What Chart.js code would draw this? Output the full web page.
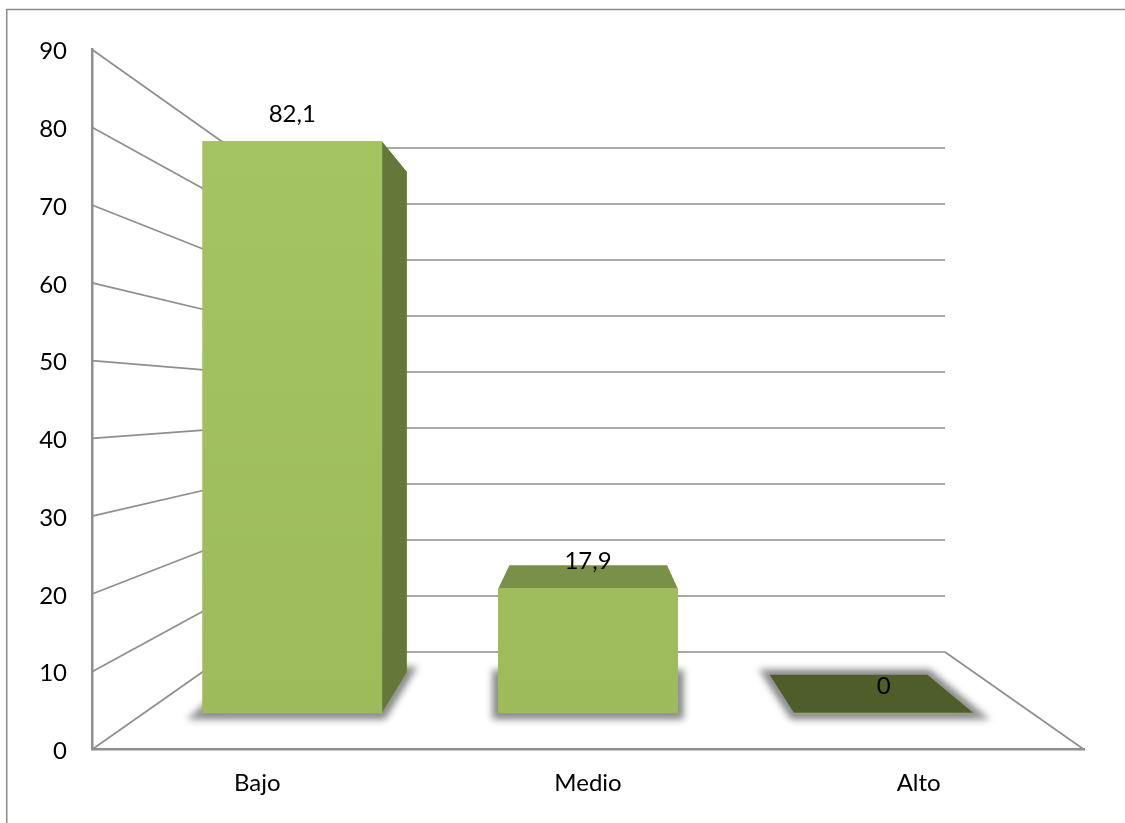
<!DOCTYPE html>
<html>
<head>
<meta charset="utf-8">
<style>html,body{margin:0;padding:0;background:#fff}canvas{display:block}</style>
<script src="https://cdn.jsdelivr.net/npm/chart.js@4/dist/chart.umd.min.js"></script>
</head>
<body>
<canvas id="c" width="1125" height="823"></canvas>
<script>
const categories = ['Bajo', 'Medio', 'Alto'];
const values = [82.1, 17.9, 0];
const yTicks = [0, 10, 20, 30, 40, 50, 60, 70, 80, 90];
const topColors = ['#76893f', '#7a8f47', '#4f5d2b'];
const baseDepths = [41, 38, 38];

const FONT = {family: 'Lato', size: 24};
const GRID = '#a8a8a8', SLANT = '#8f8f8f', AXIS = '#8f8f8f';
const VANISH = {x: 590, y: 395}, BAR_DEPTH = 0.12, WALL_RIGHT = 945;
const SHADOW = '#8e8e8e';

function back(x, y) {
  return {x: x + BAR_DEPTH * (VANISH.x - x), y: y + BAR_DEPTH * (VANISH.y - y)};
}
function poly(ctx, pts, fill) {
  ctx.beginPath();
  pts.forEach((p, i) => i ? ctx.lineTo(p.x, p.y) : ctx.moveTo(p.x, p.y));
  ctx.closePath();
  ctx.fillStyle = fill;
  ctx.fill();
}
function line(ctx, x1, y1, x2, y2, color, w) {
  ctx.beginPath();
  ctx.moveTo(x1, y1);
  ctx.lineTo(x2, y2);
  ctx.strokeStyle = color;
  ctx.lineWidth = w;
  ctx.stroke();
}
function softShadow(ctx, pts) {
  ctx.save();
  ctx.filter = 'blur(3.5px)';
  ctx.translate(0, 0.5);
  poly(ctx, pts, SHADOW);
  ctx.strokeStyle = SHADOW;
  ctx.lineJoin = 'miter';
  ctx.lineWidth = 12;
  ctx.stroke();
  ctx.restore();
}

const scene3d = {
  id: 'scene3d',
  beforeDraw(chart) {
    const ctx = chart.ctx;
    ctx.save();
    ctx.beginPath();
    ctx.moveTo(6.75, 823);
    ctx.lineTo(6.75, 9.5);
    ctx.lineTo(1125, 9.5);
    ctx.strokeStyle = '#8c8c8c';
    ctx.lineWidth = 1.5;
    ctx.stroke();
    ctx.restore();
  },
  beforeDatasetsDraw(chart) {
    const ctx = chart.ctx, y = chart.scales.y, yBack = chart.scales.yBack;
    const bars = chart.getDatasetMeta(0).data;
    const left = chart.chartArea.left, right = chart.chartArea.right;
    const backLeft = left + 139, b0 = yBack.getPixelForValue(0);
    ctx.save();
    // walls: slanted part then horizontal back part of each gridline
    yTicks.forEach(t => {
      const by = yBack.getPixelForValue(t);
      line(ctx, left, y.getPixelForValue(t), backLeft, by, SLANT, 1.75);
      line(ctx, backLeft, by, WALL_RIGHT, by, GRID, 2);
    });
    // floor edge
    line(ctx, right, y.getPixelForValue(0), WALL_RIGHT, b0, SLANT, 1.75);

    bars.forEach((bar, i) => {
      const half = bar.width / 2, xl = bar.x - half, xr = bar.x + half;
      const base = bar.base, top = bar.y;
      const bl = back(xl, base), br = back(xr, base);
      const by = base - baseDepths[i];
      const tl = back(xl, top), tr = back(xr, top);
      const topFace = [{x: xl, y: top}, {x: xr, y: top}, tr, tl];
      if (values[i] > 0) {
        // base shadow
        const sl = xr < VANISH.x ? bl.x : Math.min(bl.x, xl);
        const sr = Math.max(br.x, xr);
        softShadow(ctx, [{x: xl, y: base}, {x: xr, y: base}, {x: sr, y: by}, {x: sl, y: by}]);
        // top face, then side face when it faces the viewer
        poly(ctx, topFace, topColors[i]);
        if (xr < VANISH.x) {
          poly(ctx, [{x: xr, y: top}, tr, {x: br.x, y: by}, {x: xr, y: base}], '#65783a');
        }
      } else {
        // a zero bar is only its flat top lying on the floor
        softShadow(ctx, topFace);
        poly(ctx, topFace, topColors[i]);
      }
    });
    ctx.restore();
  },
  afterDatasetsDraw(chart) {
    const ctx = chart.ctx;
    ctx.save();
    ctx.font = FONT.size + 'px ' + FONT.family;
    ctx.fillStyle = '#000';
    ctx.textAlign = 'center';
    ctx.textBaseline = 'middle';
    chart.getDatasetMeta(0).data.forEach((bar, i) => {
      ctx.fillText(String(values[i]).replace('.', ','), bar.x, bar.y - 27);
    });
    ctx.restore();
  }
};

new Chart(document.getElementById('c'), {
  type: 'bar',
  plugins: [scene3d],
  data: {
    labels: categories,
    datasets: [{
      data: values.map((v, i) => ({x: i, y: v})),
      xAxisID: 'xBars',
      yAxisID: 'yBars',
      barThickness: 179.3,
      borderWidth: 0,
      backgroundColor(c) {
        const a = c.chart.chartArea;
        if (!a) return '#9fbd5c';
        const g = c.chart.ctx.createLinearGradient(0, 142, 0, 713);
        g.addColorStop(0, '#a4c362');
        g.addColorStop(1, '#9dbb5b');
        return g;
      }
    }]
  },
  options: {
    responsive: false,
    animation: false,
    layout: {padding: {left: 0, right: 41, top: 49.5, bottom: 0}},
    plugins: {legend: {display: false}, tooltip: {enabled: false}, title: {display: false}},
    scales: {
      x: {
        type: 'category', axis: 'x', position: 'bottom', offset: true,
        afterFit(s) { s.height = 73.5; },
        grid: {display: false, drawTicks: false},
        border: {display: true, color: AXIS, width: 2.5},
        ticks: {color: '#000', font: FONT, padding: 19, maxRotation: 0}
      },
      y: {
        type: 'linear', axis: 'y', position: 'left', min: 0, max: 90,
        afterFit(s) { s.width = 92; },
        grid: {display: false, drawTicks: false},
        border: {display: true, color: AXIS, width: 2.5},
        ticks: {color: '#000', font: FONT, padding: 25, stepSize: 10, labelOffset: 2}
      },
      xBars: {type: 'linear', axis: 'x', display: false, offset: false, min: -0.677, max: 2.677, grid: {offset: false}},
      yBars: {type: 'linear', axis: 'y', display: false, min: -5.244, max: 95.33, beginAtZero: false},
      yBack: {type: 'linear', axis: 'y', display: false, min: -17.41, max: 107.59, beginAtZero: false}
    }
  }
});
</script>
</body>
</html>
